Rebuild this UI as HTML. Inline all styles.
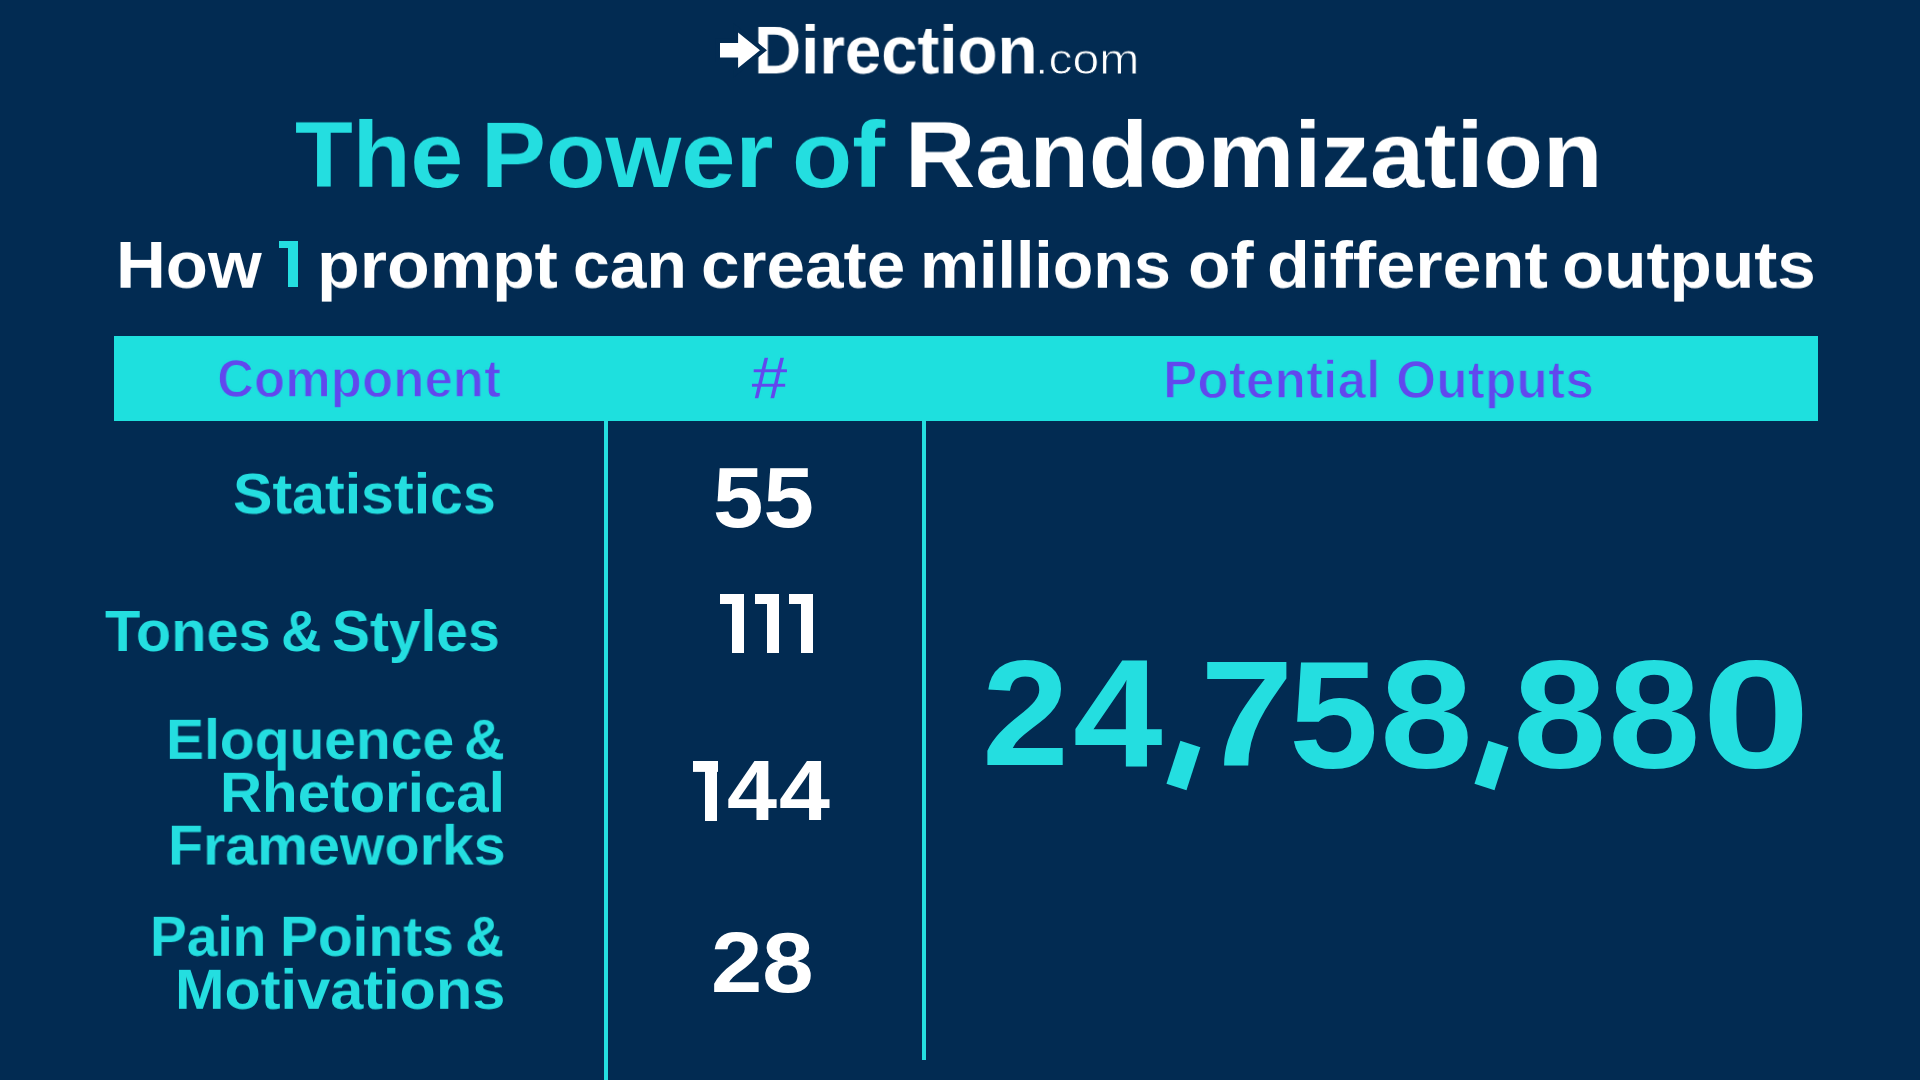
<!doctype html>
<html lang="en">
<head>
<meta charset="utf-8">
<title>The Power of Randomization</title>
<style>
html,body{margin:0;padding:0}
body{width:1920px;height:1080px;overflow:hidden;position:relative;font-family:"Liberation Sans",sans-serif}
.t{position:absolute;white-space:nowrap;line-height:1;transform-origin:0 0;margin:0;padding:0;will-change:transform}
body{background:#022b52}
.band{position:absolute;left:113.75px;top:336px;width:1704.35px;height:85px;background:#1ee0de}
.vl{position:absolute;width:4.2px;background:#24dee0}
.one{position:absolute;color:transparent;font-size:10px;line-height:1;overflow:hidden}
.cm{position:absolute;width:21px;height:44.5px;background:#24dee0;color:transparent;font-size:10px;line-height:1;overflow:hidden;transform:rotate(18deg)}
svg.arrow{position:absolute;left:700px;top:10px}
.g{margin:0;padding:0;font-size:16px;font-weight:400;line-height:1}
</style>
</head>
<body>
<div class="band"></div>
<div class="vl" style="left:603.9px;top:420px;height:660px"></div>
<div class="vl" style="left:921.7px;top:420px;height:640.1px"></div>
<header class="g logo">
<span id="lg1" class="t" style="left:754.48px;top:15.76px;font-size:68px;font-weight:700;color:#ffffff;transform:scale(0.9616,0.9902)">Direction</span>
<span id="lg2" class="t" style="left:1034.93px;top:37.99px;font-size:44px;font-weight:400;color:#ffffff;-webkit-text-stroke:0.9px #022b52;transform:scale(1.0942,0.9723)">.com</span>
<svg class="arrow" aria-hidden="true" width="120" height="90" viewBox="700 10 120 90"><path d="M720 43.1 H738.1 V32.5 L760 50.3 L738.1 68.1 V57.5 H720 Z" fill="#fff" stroke="#022b52" stroke-width="8.8" stroke-linejoin="miter" paint-order="stroke fill"/></svg>
</header>
<h1 class="g title">
<span id="t1a" class="t" style="left:295.20px;top:109.12px;font-size:94px;font-weight:700;color:#24dee0;transform:scale(1.0057,0.9874)">The</span>
<span id="t1b" class="t" style="left:481.26px;top:109.12px;font-size:94px;font-weight:700;color:#24dee0;transform:scale(1.0363,0.9874)">Power</span>
<span id="t1c" class="t" style="left:792.23px;top:109.12px;font-size:94px;font-weight:700;color:#24dee0;transform:scale(1.0476,0.9874)">of</span>
<span id="t2" class="t" style="left:905.15px;top:109.12px;font-size:94px;font-weight:700;color:#ffffff;transform:scale(1.0352,0.9874)">Randomization</span>
</h1>
<h2 class="g subtitle">
<span id="s0" class="t" style="left:115.91px;top:231.55px;font-size:66px;font-weight:700;color:#ffffff;transform:scale(1.0459,0.9946)">How</span>
<span class="one" style="left:278.75px;top:241.25px;width:18.75px;height:45.65px;background:linear-gradient(#24dee0,#24dee0) 0 0/100% 7.50px no-repeat,linear-gradient(#24dee0,#24dee0) 100% 0/10.00px 100% no-repeat">1</span>
<span id="s1" class="t" style="left:317.25px;top:231.55px;font-size:66px;font-weight:700;color:#ffffff;transform:scale(1.0599,0.9946)">prompt</span>
<span id="s2" class="t" style="left:572.83px;top:231.55px;font-size:66px;font-weight:700;color:#ffffff;transform:scale(1.0006,0.9946)">can</span>
<span id="s3" class="t" style="left:701.05px;top:231.55px;font-size:66px;font-weight:700;color:#ffffff;transform:scale(1.0499,0.9946)">create</span>
<span id="s4" class="t" style="left:920.16px;top:231.55px;font-size:66px;font-weight:700;color:#ffffff;transform:scale(1.0059,0.9946)">millions</span>
<span id="s5" class="t" style="left:1188.01px;top:231.55px;font-size:66px;font-weight:700;color:#ffffff;transform:scale(1.0527,0.9946)">of</span>
<span id="s6" class="t" style="left:1266.77px;top:231.55px;font-size:66px;font-weight:700;color:#ffffff;transform:scale(1.0640,0.9946)">different</span>
<span id="s7" class="t" style="left:1562.03px;top:231.55px;font-size:66px;font-weight:700;color:#ffffff;transform:scale(1.0487,0.9946)">outputs</span>
</h2>
<div class="g header">
<span id="h1" class="t" style="left:216.80px;top:351.46px;font-size:53px;font-weight:700;color:#6148ee;-webkit-text-stroke:1.3px #1ee0de;transform:scale(0.9648,1.0227)">Component</span>
<span id="h2" class="t" style="left:750.28px;top:348.08px;font-size:60px;font-weight:700;color:#6148ee;-webkit-text-stroke:1.3px #1ee0de;transform:scale(1.1636,1.0228)">#</span>
<span id="h3a" class="t" style="left:1163.06px;top:351.89px;font-size:53px;font-weight:700;color:#6148ee;-webkit-text-stroke:1.3px #1ee0de;transform:scale(0.9717,1.0184)">Potential</span>
<span id="h3b" class="t" style="left:1395.52px;top:351.89px;font-size:53px;font-weight:700;color:#6148ee;-webkit-text-stroke:1.3px #1ee0de;transform:scale(0.9742,1.0184)">Outputs</span>
</div>
<div class="g row1">
<span id="l1" class="t" style="left:233.40px;top:465.35px;font-size:58px;font-weight:700;color:#24dee0;transform:scale(1.0193,0.9878)">Statistics</span>
<span id="n1" class="t" style="left:713.07px;top:454.76px;font-size:84px;font-weight:700;color:#ffffff;transform:scale(1.0788,1.0113)">55</span>
</div>
<div class="g row2">
<span id="l2a" class="t" style="left:105.05px;top:602.00px;font-size:58px;font-weight:700;color:#24dee0;transform:scale(0.9950,1.0000)">Tones</span>
<span id="l2b" class="t" style="left:280.87px;top:602.00px;font-size:58px;font-weight:700;color:#24dee0;transform:scale(0.9649,1.0000)">&amp;</span>
<span id="l2c" class="t" style="left:332.11px;top:602.00px;font-size:58px;font-weight:700;color:#24dee0;transform:scale(0.9809,1.0000)">Styles</span>
<span class="one" style="left:720.40px;top:594.00px;width:24.00px;height:59.30px;background:linear-gradient(#ffffff,#ffffff) 0 0/100% 10.40px no-repeat,linear-gradient(#ffffff,#ffffff) 100% 0/12.20px 100% no-repeat">1</span>
<span class="one" style="left:755.10px;top:594.00px;width:23.80px;height:59.30px;background:linear-gradient(#ffffff,#ffffff) 0 0/100% 10.40px no-repeat,linear-gradient(#ffffff,#ffffff) 100% 0/12.20px 100% no-repeat">1</span>
<span class="one" style="left:789.30px;top:594.00px;width:24.00px;height:59.30px;background:linear-gradient(#ffffff,#ffffff) 0 0/100% 10.40px no-repeat,linear-gradient(#ffffff,#ffffff) 100% 0/12.20px 100% no-repeat">1</span>
</div>
<div class="g row3">
<span id="l3a" class="t" style="left:166.31px;top:711.00px;font-size:58px;font-weight:700;color:#24dee0;transform:scale(0.9826,0.9764)">Eloquence</span>
<span id="l3b" class="t" style="left:463.78px;top:711.00px;font-size:58px;font-weight:700;color:#24dee0;transform:scale(0.9724,0.9764)">&amp;</span>
<span id="l4" class="t" style="left:220.08px;top:763.96px;font-size:58px;font-weight:700;color:#24dee0;transform:scale(1.0047,0.9752)">Rhetorical</span>
<span id="l5" class="t" style="left:167.71px;top:817.45px;font-size:58px;font-weight:700;color:#24dee0;transform:scale(0.9878,0.9696)">Frameworks</span>
<span class="one" style="left:693.20px;top:761.30px;width:24.40px;height:59.60px;background:linear-gradient(#ffffff,#ffffff) 0 0/100% 10.90px no-repeat,linear-gradient(#ffffff,#ffffff) 100% 0/12.20px 100% no-repeat">1</span>
<span id="n3b" class="t" style="left:726.84px;top:747.13px;font-size:84px;font-weight:700;color:#ffffff;transform:scale(1.0715,1.0217)">4</span>
<span id="n3c" class="t" style="left:778.90px;top:747.13px;font-size:84px;font-weight:700;color:#ffffff;transform:scale(1.0912,1.0217)">4</span>
</div>
<div class="g row4">
<span id="l6a" class="t" style="left:150.44px;top:907.96px;font-size:58px;font-weight:700;color:#24dee0;transform:scale(0.9498,0.9752)">Pain</span>
<span id="l6b" class="t" style="left:280.33px;top:907.96px;font-size:58px;font-weight:700;color:#24dee0;transform:scale(0.9801,0.9752)">Points</span>
<span id="l6c" class="t" style="left:465.39px;top:907.96px;font-size:58px;font-weight:700;color:#24dee0;transform:scale(0.9307,0.9752)">&amp;</span>
<span id="l7" class="t" style="left:175.31px;top:960.96px;font-size:58px;font-weight:700;color:#24dee0;transform:scale(1.0249,0.9752)">Motivations</span>
<span id="n4" class="t" style="left:710.56px;top:919.62px;font-size:84px;font-weight:700;color:#ffffff;transform:scale(1.0980,1.0137)">28</span>
</div>
<div class="g total">
<span id="b0" class="t" style="left:982.12px;top:637.42px;font-size:150px;font-weight:700;color:#24dee0;transform:scale(1.0417,1.0061)">2</span>
<span id="b1" class="t" style="left:1072.92px;top:636.89px;font-size:150px;font-weight:700;color:#24dee0;transform:scale(1.0738,1.0251)">4</span>
<span class="cm" style="left:1172.50px;top:742.65px">,</span>
<span id="b2" class="t" style="left:1199.93px;top:638.08px;font-size:150px;font-weight:700;color:#24dee0;transform:scale(1.1237,1.0069)">7</span>
<span id="b3" class="t" style="left:1289.42px;top:638.54px;font-size:150px;font-weight:700;color:#24dee0;transform:scale(1.0731,1.0158)">5</span>
<span id="b4" class="t" style="left:1380.45px;top:637.13px;font-size:150px;font-weight:700;color:#24dee0;transform:scale(1.1135,1.0286)">8</span>
<span class="cm" style="left:1481.20px;top:742.65px">,</span>
<span id="b5" class="t" style="left:1513.35px;top:637.13px;font-size:150px;font-weight:700;color:#24dee0;transform:scale(1.1203,1.0286)">8</span>
<span id="b6" class="t" style="left:1607.51px;top:637.13px;font-size:150px;font-weight:700;color:#24dee0;transform:scale(1.1094,1.0286)">8</span>
<span id="b7" class="t" style="left:1702.03px;top:636.82px;font-size:150px;font-weight:700;color:#24dee0;transform:scale(1.2959,1.0311)">0</span>
</div>
</body>
</html>
